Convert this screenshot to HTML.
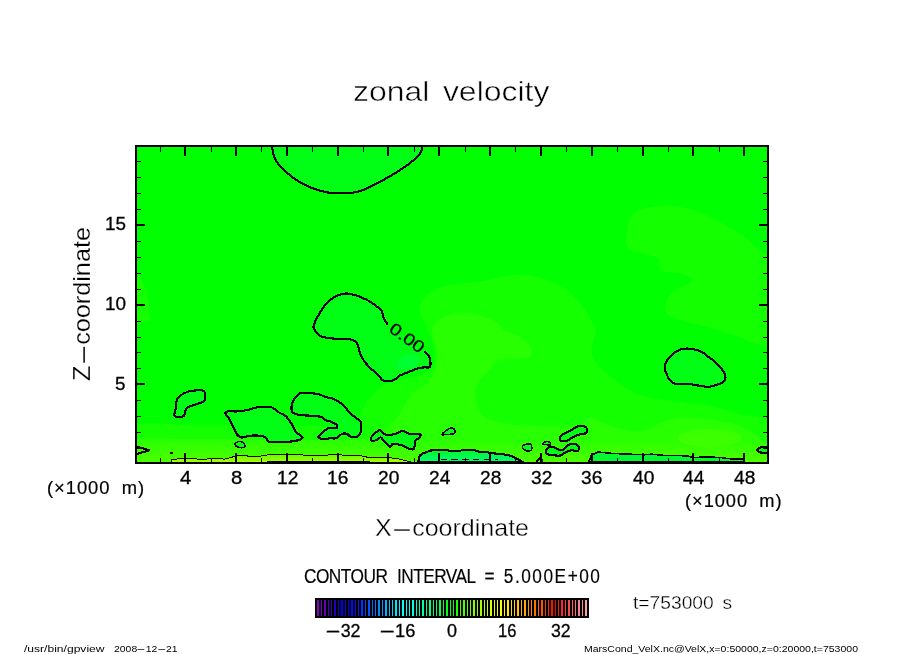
<!DOCTYPE html>
<html lang="en">
<head>
<meta charset="utf-8">
<title>zonal velocity</title>
<style>
html,body{margin:0;padding:0;background:#fff;}
body{width:904px;height:654px;overflow:hidden;}
svg{display:block;position:absolute;left:0;top:0;}
body{position:relative;}

.t{position:absolute;width:0;height:0;transform-origin:0 0;}
.t>span{position:absolute;left:0;top:-0.8465em;line-height:1;white-space:nowrap;font-family:"Liberation Sans",sans-serif;color:#000;}
.d{display:inline-block;transform:scaleX(2.7);margin:0 0.244em;}

.c{fill:none;stroke:#000;stroke-width:2.2;stroke-linejoin:round;stroke-linecap:round;shape-rendering:crispEdges;}
.n{fill:#00ff14;stroke:#000;stroke-width:2.2;stroke-linejoin:round;shape-rendering:crispEdges;}
</style>
</head>
<body>
<svg width="904" height="654" viewBox="0 0 904 654">
<rect x="0" y="0" width="904" height="654" fill="#fff"/>
<defs>
<clipPath id="pc"><rect x="136" y="146" width="632" height="317"/></clipPath>
<linearGradient id="gb" x1="0" y1="0" x2="0" y2="1"><stop offset="0" stop-color="#50ff00" stop-opacity="0"/><stop offset="1" stop-color="#50ff00" stop-opacity="1"/></linearGradient>
<linearGradient id="g5" gradientUnits="userSpaceOnUse" x1="0" y1="454" x2="0" y2="462"><stop offset="0" stop-color="#58ff00"/><stop offset="1" stop-color="#a8ff00"/></linearGradient>
<linearGradient id="gg" x1="0" y1="0" x2="0" y2="1"><stop offset="0" stop-color="#00f71c"/><stop offset="1" stop-color="#00ff78"/></linearGradient>
</defs>
<rect x="136" y="146" width="632" height="317" fill="#00ff00"/>
<g clip-path="url(#pc)">
<path d="M626.1,236.3C626.5,231.0 627.7,221.4 631.0,216.7C634.3,212.0 639.2,209.9 645.7,208.1C652.2,206.3 662.0,205.3 670.1,205.7C678.2,206.1 686.4,207.9 694.6,210.6C702.8,213.2 710.9,217.3 719.1,221.6C727.3,225.9 736.3,231.0 743.6,236.3C750.9,241.6 758.7,249.7 763.1,253.4C767.5,257.1 768.9,243.9 770.0,258.3C771.1,272.7 776.5,327.4 770.0,340.0C763.5,352.6 741.8,336.4 731.3,334.2C720.8,332.0 714.9,329.1 706.8,326.8C698.6,324.6 688.9,322.7 682.4,320.7C675.9,318.7 670.6,317.2 667.7,314.6C664.8,312.0 664.4,308.5 665.2,304.8C666.0,301.1 668.1,296.7 672.6,292.6C677.1,288.5 690.6,283.4 692.2,280.3C693.8,277.2 687.3,275.8 682.4,274.2C677.5,272.6 666.9,273.2 662.8,270.6C658.7,268.0 661.6,261.2 657.9,258.3C654.2,255.4 645.7,255.0 640.8,253.4C635.9,251.8 631.0,251.3 628.5,248.5C626.0,245.7 625.7,241.6 626.1,236.3Z" fill="#14ff00"/>
<path d="M420.0,305.5C422.0,298.4 429.9,291.6 439.9,287.6C449.8,283.6 467.1,283.8 479.7,281.6C492.3,279.5 505.6,275.4 515.6,274.7C525.6,274.0 531.5,275.5 539.5,277.6C547.5,279.8 556.1,282.6 563.4,287.6C570.7,292.6 578.0,300.4 583.3,307.5C588.6,314.6 593.8,322.1 595.2,330.0C596.7,337.9 589.5,347.4 592.0,355.0C594.5,362.6 603.7,370.0 610.0,375.8C616.3,381.6 623.2,386.2 629.8,389.8C636.4,393.4 641.5,395.7 649.8,397.7C658.1,399.7 669.6,400.4 679.6,401.7C689.6,403.0 699.5,403.7 709.5,405.7C719.5,407.7 729.0,410.6 739.4,413.7C749.8,416.8 766.6,414.9 772.0,424.0C777.4,433.1 879.0,460.7 772.0,468.0C665.0,475.3 237.0,474.8 130.0,468.0C23.0,461.2 118.3,434.2 130.0,427.0C141.7,419.8 171.7,425.2 200.0,425.0C228.3,424.8 275.0,426.2 300.0,426.0C325.0,425.8 338.7,428.3 350.0,424.0C361.3,419.7 362.0,406.7 368.0,400.0C374.0,393.3 379.0,387.7 386.0,384.0C393.0,380.3 402.3,380.7 410.0,378.0C417.7,375.3 428.0,372.7 432.0,368.0C436.0,363.3 434.7,356.3 434.0,350.0C433.3,343.7 430.3,337.4 428.0,330.0C425.7,322.6 418.0,312.6 420.0,305.5Z" fill="#14ff00"/>
<path d="M432.0,330.0C432.5,324.9 436.0,322.3 440.0,319.5C444.0,316.7 449.9,313.9 455.8,313.1C461.8,312.3 469.1,313.1 475.7,314.5C482.3,315.9 491.0,318.8 495.7,321.4C500.4,324.0 499.2,327.2 503.6,330.0C508.0,332.8 517.4,334.7 522.0,338.0C526.6,341.3 530.6,346.7 531.5,350.0C532.4,353.3 532.9,356.2 527.6,357.8C522.3,359.4 506.0,357.8 499.7,359.8C493.4,361.8 493.3,365.9 489.7,369.8C486.1,373.7 480.3,378.0 478.0,383.0C475.7,388.0 474.0,393.8 476.0,400.0C478.0,406.2 479.3,415.7 490.0,420.0C500.7,424.3 525.0,425.2 540.0,426.0C555.0,426.8 571.7,426.4 580.0,425.0C588.3,423.6 585.0,417.5 590.0,417.6C595.0,417.7 601.7,423.3 610.0,425.6C618.3,427.9 631.5,431.9 639.8,431.6C648.1,431.3 653.1,425.9 659.7,423.6C666.3,421.3 671.3,418.3 679.6,417.6C687.9,416.9 699.5,418.3 709.5,419.6C719.5,420.9 731.1,422.6 739.4,425.6C747.7,428.6 753.9,433.5 759.3,437.5C764.7,441.5 769.9,444.4 772.0,449.5C774.1,454.6 879.0,464.9 772.0,468.0C665.0,471.1 237.0,472.5 130.0,468.0C23.0,463.5 118.3,445.8 130.0,441.0C141.7,436.2 171.7,439.2 200.0,439.0C228.3,438.8 271.7,440.2 300.0,440.0C328.3,439.8 354.2,441.3 370.0,438.0C385.8,434.7 388.3,427.0 395.0,420.0C401.7,413.0 404.5,402.3 410.0,396.0C415.5,389.7 423.7,386.7 428.0,382.0C432.3,377.3 434.5,373.3 436.0,368.0C437.5,362.7 437.7,356.3 437.0,350.0C436.3,343.7 431.5,335.1 432.0,330.0Z" fill="#28ff00"/>
<ellipse cx="709.5" cy="438" rx="32" ry="9" fill="#3cff00"/>
<path d="M136,270 Q150,290 150,320 L136,325Z" fill="#14ff00"/>
<rect x="136" y="440" width="640" height="24" fill="url(#gb)"/>
<path d="M171.5,462.0L171.5,459.4L180.3,458.8L193.3,458.8L204.8,459.4L210.5,458.4L224.9,459.1L230.7,457.7L236.4,455.5L242.2,455.0L252.2,456.9L255.8,456.9L264.4,455.5L270.1,454.5L300.3,454.5L303.2,455.1L327.7,455.1L330.5,454.5L339.2,454.5L342.0,455.1L355.0,455.5L365.0,456.2L367.9,457.7L387.3,457.8L396.0,458.2L403.1,460.1L410.3,461.8L410.3,463.0L171.7,463.0Z" fill="url(#g5)"/>
<path class="c" d="M171.5,462.0L171.5,459.4L180.3,458.8L193.3,458.8L204.8,459.4L210.5,458.4L224.9,459.1L230.7,457.7L236.4,455.5L242.2,455.0L252.2,456.9L255.8,456.9L264.4,455.5L270.1,454.5L300.3,454.5L303.2,455.1L327.7,455.1L330.5,454.5L339.2,454.5L342.0,455.1L355.0,455.5L365.0,456.2L367.9,457.7L387.3,457.8L396.0,458.2L403.1,460.1L410.3,461.8" style="stroke-width:1"/>
<path class="n" d="M272.0,146.0C272.3,148.7 272.8,152.8 274.0,156.0C275.2,159.2 277.0,162.3 279.0,165.0C281.0,167.7 282.8,169.3 286.0,172.0C289.2,174.7 293.7,178.3 298.0,181.0C302.3,183.7 306.7,186.0 312.0,188.0C317.3,190.0 323.4,192.0 330.0,192.8C336.6,193.6 346.0,193.3 351.6,192.8C357.2,192.3 358.9,191.8 363.5,190.0C368.1,188.2 374.2,184.8 379.5,182.0C384.8,179.2 390.8,175.8 395.4,173.0C400.0,170.2 403.8,167.7 407.4,165.0C411.0,162.3 415.0,159.3 417.3,157.0C419.6,154.7 420.5,152.8 421.3,151.0C422.1,149.2 422.2,147.8 422.3,146.0C422.4,144.2 447.1,141.0 422.0,140.0C396.9,139.0 297.0,139.0 272.0,140.0C247.0,141.0 271.7,143.3 272.0,146.0Z"/>
<path d="M387.4,324.1C380.6,318.6 385.1,320.9 384.1,318.7C383.1,316.5 382.7,313.1 381.6,311.1C380.5,309.1 379.1,308.4 377.3,306.9C375.5,305.4 373.1,303.4 370.6,301.9C368.1,300.4 365.0,298.9 362.2,297.7C359.4,296.5 356.5,295.5 353.8,294.8C351.1,294.1 348.9,293.4 346.2,293.5C343.5,293.6 340.2,294.6 337.8,295.5C335.4,296.4 333.8,297.5 331.9,298.8C329.9,300.1 327.9,301.4 326.1,303.5C324.3,305.6 322.7,308.4 321.0,311.1C319.3,313.8 317.2,316.8 316.0,319.5C314.8,322.2 313.5,325.0 313.5,327.1C313.5,329.2 314.8,330.6 316.0,332.1C317.2,333.6 318.9,335.3 321.0,336.3C323.1,337.3 325.9,337.6 328.6,338.0C331.3,338.4 333.6,338.7 337.0,338.9C340.4,339.1 345.7,338.8 348.8,339.2C351.9,339.6 354.0,340.3 355.5,341.4C357.0,342.5 357.3,343.8 358.0,345.6C358.7,347.4 358.7,349.8 359.7,352.3C360.7,354.8 362.1,358.0 363.9,360.7C365.7,363.4 368.4,366.1 370.6,368.3C372.8,370.6 375.3,372.2 377.3,374.2C379.3,376.1 380.8,378.8 382.4,380.0C383.9,381.2 384.6,381.2 386.6,381.2C388.6,381.2 392.1,380.9 394.2,380.0C396.3,379.1 397.0,377.1 399.2,375.8C401.4,374.6 404.5,373.8 407.6,372.5C410.7,371.2 414.9,369.2 417.7,368.3C420.5,367.4 422.4,367.6 424.4,367.4C426.4,367.2 428.8,368.2 429.8,367.1C430.8,366.0 430.6,362.8 430.3,360.7C430.0,358.6 429.0,356.2 428.1,354.8C427.2,353.4 431.6,357.1 424.8,352.0C418.0,346.9 394.2,329.7 387.4,324.1Z" fill="#00ff14"/>
<ellipse cx="408" cy="362" rx="12" ry="7" fill="#00ff30" transform="rotate(-20 408 362)"/>
<path class="c" d="M387.4,324.1C386.8,323.2 385.1,320.9 384.1,318.7C383.1,316.5 382.7,313.1 381.6,311.1C380.5,309.1 379.1,308.4 377.3,306.9C375.5,305.4 373.1,303.4 370.6,301.9C368.1,300.4 365.0,298.9 362.2,297.7C359.4,296.5 356.5,295.5 353.8,294.8C351.1,294.1 348.9,293.4 346.2,293.5C343.5,293.6 340.2,294.6 337.8,295.5C335.4,296.4 333.8,297.5 331.9,298.8C329.9,300.1 327.9,301.4 326.1,303.5C324.3,305.6 322.7,308.4 321.0,311.1C319.3,313.8 317.2,316.8 316.0,319.5C314.8,322.2 313.5,325.0 313.5,327.1C313.5,329.2 314.8,330.6 316.0,332.1C317.2,333.6 318.9,335.3 321.0,336.3C323.1,337.3 325.9,337.6 328.6,338.0C331.3,338.4 333.6,338.7 337.0,338.9C340.4,339.1 345.7,338.8 348.8,339.2C351.9,339.6 354.0,340.3 355.5,341.4C357.0,342.5 357.3,343.8 358.0,345.6C358.7,347.4 358.7,349.8 359.7,352.3C360.7,354.8 362.1,358.0 363.9,360.7C365.7,363.4 368.4,366.1 370.6,368.3C372.8,370.6 375.3,372.2 377.3,374.2C379.3,376.1 380.8,378.8 382.4,380.0C383.9,381.2 384.6,381.2 386.6,381.2C388.6,381.2 392.1,380.9 394.2,380.0C396.3,379.1 397.0,377.1 399.2,375.8C401.4,374.6 404.5,373.8 407.6,372.5C410.7,371.2 414.9,369.2 417.7,368.3C420.5,367.4 422.4,367.6 424.4,367.4C426.4,367.2 428.8,368.2 429.8,367.1C430.8,366.0 430.6,362.8 430.3,360.7C430.0,358.6 429.0,356.2 428.1,354.8C427.2,353.4 425.4,352.5 424.8,352.0"/>
<path class="n" d="M688.9,348.7C690.9,348.9 695.1,349.4 697.5,350.1C699.9,350.8 701.4,351.8 703.3,353.0C705.2,354.2 707.1,355.9 709.0,357.3C710.9,358.7 712.9,359.9 714.8,361.6C716.7,363.3 718.8,365.6 720.5,367.7C722.2,369.8 724.0,371.8 724.8,373.9C725.6,376.0 725.8,378.7 725.1,380.3C724.4,381.9 722.2,382.6 720.5,383.5C718.8,384.4 716.9,384.8 714.8,385.4C712.6,385.9 710.5,386.8 707.6,386.8C704.7,386.8 700.5,385.8 697.5,385.4C694.5,385.0 693.3,384.4 689.6,384.2C685.9,383.9 678.6,384.7 675.2,383.9C671.9,383.1 670.9,381.3 669.5,379.6C668.1,377.9 667.4,375.8 666.6,373.9C665.8,372.0 664.7,370.7 664.7,368.5C664.7,366.3 665.5,363.1 666.6,360.9C667.8,358.7 669.6,357.0 671.6,355.2C673.6,353.4 676.5,351.2 678.8,350.1C681.1,349.0 683.6,348.9 685.3,348.7C687.0,348.5 686.9,348.5 688.9,348.7Z"/>
<path class="n" d="M199.7,390.1C201.5,390.2 203.2,390.2 204.1,391.2C205.0,392.1 205.1,394.3 205.2,395.8C205.3,397.3 205.5,399.0 204.8,400.1C204.1,401.2 202.9,401.9 201.2,402.7C199.5,403.5 197.0,403.9 194.7,404.7C192.4,405.5 189.1,406.6 187.5,407.6C185.9,408.6 186.0,409.5 185.4,410.9C184.8,412.2 184.8,414.7 183.9,415.7C183.1,416.7 181.7,416.9 180.3,417.1C178.9,417.3 176.3,417.1 175.3,416.7C174.3,416.3 174.2,415.8 174.3,414.5C174.4,413.2 175.4,410.7 175.7,408.8C176.0,406.9 176.0,404.7 176.3,403.0C176.6,401.3 176.7,400.0 177.5,398.7C178.3,397.4 179.3,396.2 181.0,395.1C182.7,394.0 185.4,392.6 187.5,391.9C189.6,391.2 191.3,391.1 193.3,390.8C195.3,390.5 197.9,390.0 199.7,390.1Z"/>
<path class="n" d="M226.3,415.2C225.9,414.0 224.4,412.2 226.6,411.6C228.8,411.0 235.5,411.7 239.3,411.3C243.1,410.9 246.7,410.1 249.4,409.5C252.2,408.9 253.1,408.1 255.8,407.6C258.5,407.1 263.1,406.6 265.8,406.6C268.6,406.6 270.1,406.6 272.3,407.6C274.5,408.6 276.8,411.1 278.8,412.4C280.8,413.7 282.8,414.0 284.5,415.2C286.2,416.4 287.5,417.8 288.8,419.5C290.1,421.2 291.2,423.2 292.4,425.3C293.6,427.4 294.3,429.8 296.0,431.8C297.7,433.8 302.2,436.1 302.5,437.5C302.8,438.9 299.9,439.7 297.5,440.4C295.1,441.1 292.8,441.6 288.1,441.8C283.4,442.0 273.1,442.5 269.4,441.8C265.7,441.1 267.4,438.5 265.8,437.5C264.2,436.5 262.7,436.1 260.0,435.8C257.3,435.5 252.5,435.5 249.4,435.8C246.3,436.1 243.5,437.7 241.4,437.5C239.3,437.3 238.4,436.3 237.1,434.6C235.8,432.9 234.8,430.1 233.5,427.5C232.2,424.9 230.4,420.9 229.2,418.8C228.0,416.8 226.7,416.4 226.3,415.2Z"/>
<path class="n" d="M301.8,392.9C303.5,392.6 305.3,392.6 308.2,392.9C311.1,393.1 316.0,393.7 319.0,394.4C322.0,395.1 323.8,396.6 326.2,397.3C328.6,398.0 330.5,397.4 333.4,398.7C336.3,400.0 340.9,402.9 343.5,405.2C346.1,407.5 347.1,410.2 349.2,412.4C351.3,414.5 354.5,416.6 356.4,418.1C358.3,419.7 360.0,419.4 360.7,421.7C361.4,424.0 361.3,429.3 360.7,431.8C360.1,434.3 358.8,436.0 357.1,436.8C355.4,437.6 352.4,437.3 350.7,436.8C349.0,436.3 348.6,434.4 347.1,433.9C345.7,433.4 343.8,433.2 342.0,433.9C340.2,434.6 338.2,437.5 336.3,438.2C334.4,438.9 332.4,438.1 330.5,438.2C328.6,438.3 326.8,439.1 324.8,439.0C322.8,438.9 318.8,438.5 318.3,437.5C317.8,436.5 320.2,434.8 321.9,433.2C323.6,431.6 326.0,429.0 328.4,428.2C330.8,427.4 335.0,428.8 336.3,428.2C337.6,427.6 337.2,425.7 336.3,424.6C335.4,423.5 332.9,422.4 331.2,421.7C329.5,421.0 327.8,421.0 326.2,420.3C324.6,419.6 323.6,418.1 321.9,417.4C320.2,416.7 319.5,416.4 316.1,416.0C312.8,415.6 305.4,415.6 301.8,415.2C298.2,414.8 296.3,414.5 294.6,413.8C292.9,413.1 292.1,412.8 291.7,410.9C291.3,409.0 291.3,405.1 292.4,402.3C293.5,399.6 296.6,396.0 298.2,394.4C299.8,392.8 300.1,393.1 301.8,392.9Z"/>
<path class="n" d="M370.8,438.1C371.7,436.4 376.3,432.1 378.0,430.9C379.7,429.7 379.5,430.2 380.9,430.9C382.3,431.6 384.1,434.7 386.6,435.2C389.1,435.7 393.4,434.5 396.0,433.8C398.6,433.1 400.1,430.9 402.4,430.9C404.7,430.9 406.7,433.3 409.6,433.8C412.5,434.3 418.0,433.2 419.7,433.8C421.4,434.4 420.4,436.2 419.7,437.4C419.0,438.6 416.4,439.1 415.4,441.0C414.4,442.9 415.0,447.6 413.9,448.9C412.8,450.2 410.9,449.2 408.9,448.6C406.9,448.0 404.3,446.1 401.7,445.3C399.1,444.5 395.0,443.7 393.1,443.9C391.2,444.1 391.6,447.1 390.2,446.7C388.8,446.3 385.9,443.2 384.4,441.7C382.8,440.1 382.1,437.8 380.9,437.4C379.7,437.0 378.6,438.9 377.3,439.5C376.0,440.1 374.0,441.2 372.9,441.0C371.8,440.8 369.9,439.8 370.8,438.1Z"/>
<path class="n" d="M550.5,446.7C551.8,446.5 553.5,447.0 554.8,447.5C556.1,448.0 557.0,449.2 558.4,449.6C559.8,450.0 561.6,450.4 563.4,449.6C565.2,448.8 567.3,445.6 569.2,444.6C571.1,443.7 573.4,443.5 574.9,443.9C576.4,444.2 578.0,445.5 578.5,446.7C579.0,447.9 578.9,450.4 577.8,451.0C576.7,451.6 573.9,450.2 572.0,450.3C570.1,450.4 568.2,451.0 566.3,451.8C564.4,452.6 562.4,454.8 560.5,455.4C558.6,456.0 556.8,455.5 554.8,455.4C552.8,455.3 549.8,455.1 548.3,454.6C546.8,454.1 546.3,453.4 546.1,452.5C545.9,451.6 546.2,449.9 546.9,448.9C547.6,447.9 549.2,446.9 550.5,446.7Z"/>
<path class="n" d="M559.8,438.8C559.9,437.7 561.1,435.8 562.7,434.5C564.3,433.2 567.2,432.4 569.2,431.3C571.2,430.2 573.2,428.9 574.9,428.0C576.6,427.1 577.5,426.1 579.2,425.9C580.9,425.7 583.7,426.0 585.0,426.6C586.3,427.2 586.9,428.4 587.1,429.5C587.3,430.6 587.7,432.3 586.4,433.1C585.1,433.9 581.6,433.7 579.2,434.5C576.8,435.3 573.9,436.7 572.0,437.7C570.1,438.7 569.4,440.1 567.7,440.6C566.0,441.2 563.3,441.3 562.0,441.0C560.7,440.7 559.7,439.9 559.8,438.8Z"/>
<path class="n" d="M235.0,444.3C234.9,443.4 236.8,442.2 238.0,441.8C239.2,441.4 240.9,441.5 242.0,442.0C243.1,442.5 244.4,444.1 244.8,445.0C245.2,445.9 245.6,446.8 244.5,447.2C243.4,447.6 240.1,447.8 238.5,447.3C236.9,446.8 235.1,445.2 235.0,444.3Z" style="stroke-width:1.6"/>
<path class="n" d="M442.0,434.5C442.2,433.7 446.0,430.6 447.7,429.5C449.4,428.4 450.8,427.8 452.0,428.0C453.2,428.2 454.9,429.9 455.2,430.9C455.4,431.9 455.0,433.2 453.5,433.8C452.0,434.4 448.2,434.4 446.3,434.5C444.4,434.6 441.8,435.3 442.0,434.5Z" style="stroke-width:1.6"/>
<path class="n" d="M522.4,447.5C522.2,446.5 523.6,445.1 525.0,444.6C526.4,444.1 529.4,443.9 530.5,444.3C531.6,444.7 531.7,446.0 531.8,447.0C531.9,448.0 532.0,449.8 531.0,450.4C530.0,451.0 527.4,451.1 526.0,450.6C524.6,450.1 522.6,448.5 522.4,447.5Z" style="stroke-width:1.6"/>
<path class="n" d="M542.6,443.9C542.6,443.4 544.8,441.9 546.1,441.7C547.4,441.5 549.9,442.3 550.5,442.9C551.1,443.5 550.4,445.0 549.7,445.3C549.0,445.6 547.3,444.8 546.1,444.6C544.9,444.4 542.6,444.4 542.6,443.9Z" style="stroke-width:1.6"/>
<path class="n" d="M418.2,462.1L419.7,455.4L423.3,453.2L430.5,450.6L436.2,449.6L446.3,449.6L449.2,450.6L460.7,450.6L463.5,449.6L473.6,449.6L476.5,451.0L480.0,451.8L485.8,452.1L494.4,453.5L504.4,454.4L511.6,456.1L517.4,459.0L523.1,462.1Z" style="fill:url(#gg)"/>
<path class="n" d="M588.6,462.1L591.4,455.4L597.9,452.1L600.0,452.2L612.0,453.4L629.9,454.2L643.8,454.8L651.8,454.2L663.7,455.4L687.6,455.8L692.6,457.7L707.5,456.8L721.5,457.7L729.4,458.7L743.4,459.3L744.2,461.7Z" style="fill:#00fa30;stroke-width:1.6"/>
<path class="c" d="M136.0,446.4L149.4,450.2L137.0,454.0"/>
<path class="n" d="M768.0,446.8C766.5,447.0 761.1,447.2 759.3,447.8C757.5,448.4 757.3,449.5 757.3,450.2C757.3,450.9 757.5,451.7 759.3,452.2C761.1,452.7 766.5,453.2 768.0,453.4"/>
<path d="M440.5,459.5H498" fill="none" stroke="#000" stroke-width="1" stroke-dasharray="6.5 4.3" shape-rendering="crispEdges"/>
<path class="c" d="M537,461 L540,458 L542.5,461" />
<rect x="170" y="452" width="3" height="2" fill="#000"/>
<rect x="267" y="461" width="103" height="1" fill="#000" shape-rendering="crispEdges"/>
</g>
<g shape-rendering="crispEdges"><rect x="160" y="147" width="1" height="5" fill="#000"/><rect x="160" y="458" width="1" height="4" fill="#000"/><rect x="184" y="147" width="2" height="9" fill="#000"/><rect x="184" y="453" width="2" height="9" fill="#000"/><rect x="211" y="147" width="1" height="5" fill="#000"/><rect x="211" y="458" width="1" height="4" fill="#000"/><rect x="235" y="147" width="2" height="9" fill="#000"/><rect x="235" y="453" width="2" height="9" fill="#000"/><rect x="261" y="147" width="1" height="5" fill="#000"/><rect x="261" y="458" width="1" height="4" fill="#000"/><rect x="286" y="147" width="2" height="9" fill="#000"/><rect x="286" y="453" width="2" height="9" fill="#000"/><rect x="312" y="147" width="1" height="5" fill="#000"/><rect x="312" y="458" width="1" height="4" fill="#000"/><rect x="337" y="147" width="2" height="9" fill="#000"/><rect x="337" y="453" width="2" height="9" fill="#000"/><rect x="363" y="147" width="1" height="5" fill="#000"/><rect x="363" y="458" width="1" height="4" fill="#000"/><rect x="387" y="147" width="2" height="9" fill="#000"/><rect x="387" y="453" width="2" height="9" fill="#000"/><rect x="414" y="147" width="1" height="5" fill="#000"/><rect x="414" y="458" width="1" height="4" fill="#000"/><rect x="438" y="147" width="2" height="9" fill="#000"/><rect x="438" y="453" width="2" height="9" fill="#000"/><rect x="465" y="147" width="1" height="5" fill="#000"/><rect x="465" y="458" width="1" height="4" fill="#000"/><rect x="489" y="147" width="2" height="9" fill="#000"/><rect x="489" y="453" width="2" height="9" fill="#000"/><rect x="515" y="147" width="1" height="5" fill="#000"/><rect x="515" y="458" width="1" height="4" fill="#000"/><rect x="540" y="147" width="2" height="9" fill="#000"/><rect x="540" y="453" width="2" height="9" fill="#000"/><rect x="566" y="147" width="1" height="5" fill="#000"/><rect x="566" y="458" width="1" height="4" fill="#000"/><rect x="591" y="147" width="2" height="9" fill="#000"/><rect x="591" y="453" width="2" height="9" fill="#000"/><rect x="617" y="147" width="1" height="5" fill="#000"/><rect x="617" y="458" width="1" height="4" fill="#000"/><rect x="642" y="147" width="2" height="9" fill="#000"/><rect x="642" y="453" width="2" height="9" fill="#000"/><rect x="668" y="147" width="1" height="5" fill="#000"/><rect x="668" y="458" width="1" height="4" fill="#000"/><rect x="692" y="147" width="2" height="9" fill="#000"/><rect x="692" y="453" width="2" height="9" fill="#000"/><rect x="719" y="147" width="1" height="5" fill="#000"/><rect x="719" y="458" width="1" height="4" fill="#000"/><rect x="743" y="147" width="2" height="9" fill="#000"/><rect x="743" y="453" width="2" height="9" fill="#000"/><rect x="137" y="448" width="4" height="1" fill="#000"/><rect x="763" y="448" width="4" height="1" fill="#000"/><rect x="137" y="432" width="4" height="1" fill="#000"/><rect x="763" y="432" width="4" height="1" fill="#000"/><rect x="137" y="416" width="4" height="1" fill="#000"/><rect x="763" y="416" width="4" height="1" fill="#000"/><rect x="137" y="400" width="4" height="1" fill="#000"/><rect x="763" y="400" width="4" height="1" fill="#000"/><rect x="137" y="383" width="8" height="2" fill="#000"/><rect x="759" y="383" width="8" height="2" fill="#000"/><rect x="137" y="368" width="4" height="1" fill="#000"/><rect x="763" y="368" width="4" height="1" fill="#000"/><rect x="137" y="352" width="4" height="1" fill="#000"/><rect x="763" y="352" width="4" height="1" fill="#000"/><rect x="137" y="337" width="4" height="1" fill="#000"/><rect x="763" y="337" width="4" height="1" fill="#000"/><rect x="137" y="321" width="4" height="1" fill="#000"/><rect x="763" y="321" width="4" height="1" fill="#000"/><rect x="137" y="304" width="8" height="2" fill="#000"/><rect x="759" y="304" width="8" height="2" fill="#000"/><rect x="137" y="289" width="4" height="1" fill="#000"/><rect x="763" y="289" width="4" height="1" fill="#000"/><rect x="137" y="273" width="4" height="1" fill="#000"/><rect x="763" y="273" width="4" height="1" fill="#000"/><rect x="137" y="257" width="4" height="1" fill="#000"/><rect x="763" y="257" width="4" height="1" fill="#000"/><rect x="137" y="241" width="4" height="1" fill="#000"/><rect x="763" y="241" width="4" height="1" fill="#000"/><rect x="137" y="224" width="8" height="2" fill="#000"/><rect x="759" y="224" width="8" height="2" fill="#000"/><rect x="137" y="209" width="4" height="1" fill="#000"/><rect x="763" y="209" width="4" height="1" fill="#000"/><rect x="137" y="193" width="4" height="1" fill="#000"/><rect x="763" y="193" width="4" height="1" fill="#000"/><rect x="137" y="177" width="4" height="1" fill="#000"/><rect x="763" y="177" width="4" height="1" fill="#000"/><rect x="137" y="161" width="4" height="1" fill="#000"/><rect x="763" y="161" width="4" height="1" fill="#000"/></g>
<rect x="136" y="146" width="632" height="317" fill="none" stroke="#000" stroke-width="2" shape-rendering="crispEdges"/>
<g shape-rendering="crispEdges"><rect x="315" y="598" width="274" height="20" fill="#000"/><rect x="317" y="600" width="2" height="16" fill="#8800c2"/><rect x="321" y="600" width="1" height="16" fill="#7600c0"/><rect x="324" y="600" width="2" height="16" fill="#6400be"/><rect x="328" y="600" width="1" height="16" fill="#4b00bc"/><rect x="331" y="600" width="1" height="16" fill="#3200b9"/><rect x="334" y="600" width="2" height="16" fill="#1e00c3"/><rect x="338" y="600" width="1" height="16" fill="#0d00d5"/><rect x="341" y="600" width="2" height="16" fill="#0000f0"/><rect x="345" y="600" width="1" height="16" fill="#0000f6"/><rect x="348" y="600" width="1" height="16" fill="#0000fc"/><rect x="351" y="600" width="2" height="16" fill="#0006ff"/><rect x="355" y="600" width="1" height="16" fill="#0012ff"/><rect x="358" y="600" width="1" height="16" fill="#001eff"/><rect x="361" y="600" width="2" height="16" fill="#0032ff"/><rect x="365" y="600" width="1" height="16" fill="#0046ff"/><rect x="368" y="600" width="2" height="16" fill="#0057ff"/><rect x="372" y="600" width="1" height="16" fill="#0067ff"/><rect x="375" y="600" width="1" height="16" fill="#0078ff"/><rect x="378" y="600" width="2" height="16" fill="#008aff"/><rect x="382" y="600" width="1" height="16" fill="#009dff"/><rect x="385" y="600" width="2" height="16" fill="#00afff"/><rect x="389" y="600" width="1" height="16" fill="#00c1ff"/><rect x="392" y="600" width="1" height="16" fill="#00d2ff"/><rect x="395" y="600" width="2" height="16" fill="#00e3ff"/><rect x="399" y="600" width="1" height="16" fill="#00f3ff"/><rect x="402" y="600" width="2" height="16" fill="#00fffd"/><rect x="406" y="600" width="1" height="16" fill="#00fff5"/><rect x="409" y="600" width="1" height="16" fill="#00ffee"/><rect x="412" y="600" width="2" height="16" fill="#00ffe7"/><rect x="416" y="600" width="1" height="16" fill="#00ffd0"/><rect x="419" y="600" width="1" height="16" fill="#00ffb6"/><rect x="422" y="600" width="2" height="16" fill="#00ffa1"/><rect x="426" y="600" width="1" height="16" fill="#00ff8f"/><rect x="429" y="600" width="2" height="16" fill="#00ff7d"/><rect x="433" y="600" width="1" height="16" fill="#00ff6b"/><rect x="436" y="600" width="1" height="16" fill="#00ff58"/><rect x="439" y="600" width="2" height="16" fill="#00ff43"/><rect x="443" y="600" width="1" height="16" fill="#00ff2e"/><rect x="446" y="600" width="2" height="16" fill="#00ff1a"/><rect x="450" y="600" width="1" height="16" fill="#00ff09"/><rect x="453" y="600" width="1" height="16" fill="#0aff00"/><rect x="456" y="600" width="2" height="16" fill="#1fff00"/><rect x="460" y="600" width="1" height="16" fill="#34ff00"/><rect x="463" y="600" width="2" height="16" fill="#47ff00"/><rect x="467" y="600" width="1" height="16" fill="#5aff00"/><rect x="470" y="600" width="1" height="16" fill="#6dff00"/><rect x="473" y="600" width="2" height="16" fill="#7fff00"/><rect x="477" y="600" width="1" height="16" fill="#92ff00"/><rect x="480" y="600" width="2" height="16" fill="#a4ff00"/><rect x="484" y="600" width="1" height="16" fill="#b6ff00"/><rect x="487" y="600" width="1" height="16" fill="#c8ff00"/><rect x="490" y="600" width="2" height="16" fill="#daff00"/><rect x="494" y="600" width="1" height="16" fill="#e7ff00"/><rect x="497" y="600" width="1" height="16" fill="#f3ff00"/><rect x="500" y="600" width="2" height="16" fill="#ffff00"/><rect x="504" y="600" width="1" height="16" fill="#fff300"/><rect x="507" y="600" width="2" height="16" fill="#ffe700"/><rect x="511" y="600" width="1" height="16" fill="#ffdb00"/><rect x="514" y="600" width="1" height="16" fill="#ffce00"/><rect x="517" y="600" width="2" height="16" fill="#ffc100"/><rect x="521" y="600" width="1" height="16" fill="#ffb400"/><rect x="524" y="600" width="2" height="16" fill="#ffa600"/><rect x="528" y="600" width="1" height="16" fill="#ff9400"/><rect x="531" y="600" width="1" height="16" fill="#ff8300"/><rect x="534" y="600" width="2" height="16" fill="#ff7100"/><rect x="538" y="600" width="1" height="16" fill="#ff6000"/><rect x="541" y="600" width="2" height="16" fill="#ff5200"/><rect x="545" y="600" width="1" height="16" fill="#ff3f00"/><rect x="548" y="600" width="1" height="16" fill="#ff2800"/><rect x="551" y="600" width="2" height="16" fill="#ff1400"/><rect x="555" y="600" width="1" height="16" fill="#ff0000"/><rect x="558" y="600" width="1" height="16" fill="#ff1414"/><rect x="561" y="600" width="2" height="16" fill="#ff2626"/><rect x="565" y="600" width="1" height="16" fill="#ff3737"/><rect x="568" y="600" width="2" height="16" fill="#ff4848"/><rect x="572" y="600" width="1" height="16" fill="#ff5a5a"/><rect x="575" y="600" width="1" height="16" fill="#ff6c6c"/><rect x="578" y="600" width="2" height="16" fill="#ff7d7d"/><rect x="582" y="600" width="1" height="16" fill="#ff8f8f"/><rect x="585" y="600" width="2" height="16" fill="#ffa1a1"/></g>
</svg>
<div class="t" style="left:352.5px;top:102.0px;font-size:28px;transform:scaleX(1.1418);"><span style="word-spacing:4px;-webkit-text-stroke:0.5px #fff;">zonal velocity</span></div>
<div class="t" style="left:375.3px;top:536.6px;font-size:24px;transform:scaleX(1.0421);"><span style="-webkit-text-stroke:0.35px #fff;">X<span class="d">-</span>coordinate</span></div>
<div class="t" style="left:89.9px;top:381.2px;font-size:24px;transform:rotate(-90deg) scaleX(1.0516);"><span style="-webkit-text-stroke:0.2px #fff;">Z<span class="d">-</span>coordinate</span></div>
<div class="t" style="left:179.85px;top:484.6px;font-size:18px;transform:scaleX(1.1282);"><span style="-webkit-text-stroke:0.3px #000;">4</span></div>
<div class="t" style="left:230.54999999999998px;top:484.6px;font-size:18px;transform:scaleX(1.1282);"><span style="-webkit-text-stroke:0.3px #000;">8</span></div>
<div class="t" style="left:276.65000000000003px;top:484.6px;font-size:18px;transform:scaleX(1.0633);"><span style="-webkit-text-stroke:0.3px #000;">12</span></div>
<div class="t" style="left:327.15000000000003px;top:484.6px;font-size:18px;transform:scaleX(1.0633);"><span style="-webkit-text-stroke:0.3px #000;">16</span></div>
<div class="t" style="left:377.85px;top:484.6px;font-size:18px;transform:scaleX(1.0633);"><span style="-webkit-text-stroke:0.3px #000;">20</span></div>
<div class="t" style="left:428.55px;top:484.6px;font-size:18px;transform:scaleX(1.0633);"><span style="-webkit-text-stroke:0.3px #000;">24</span></div>
<div class="t" style="left:479.55px;top:484.6px;font-size:18px;transform:scaleX(1.0633);"><span style="-webkit-text-stroke:0.3px #000;">28</span></div>
<div class="t" style="left:531.15px;top:484.6px;font-size:18px;transform:scaleX(1.0633);"><span style="-webkit-text-stroke:0.3px #000;">32</span></div>
<div class="t" style="left:581.15px;top:484.6px;font-size:18px;transform:scaleX(1.0633);"><span style="-webkit-text-stroke:0.3px #000;">36</span></div>
<div class="t" style="left:632.65px;top:484.6px;font-size:18px;transform:scaleX(1.0633);"><span style="-webkit-text-stroke:0.3px #000;">40</span></div>
<div class="t" style="left:682.75px;top:484.6px;font-size:18px;transform:scaleX(1.0633);"><span style="-webkit-text-stroke:0.3px #000;">44</span></div>
<div class="t" style="left:733.95px;top:484.6px;font-size:18px;transform:scaleX(1.0633);"><span style="-webkit-text-stroke:0.3px #000;">48</span></div>
<div class="t" style="left:104.8px;top:230.4px;font-size:18px;transform:scaleX(1.0484);"><span style="-webkit-text-stroke:0.3px #000;">15</span></div>
<div class="t" style="left:104.8px;top:310.5px;font-size:18px;transform:scaleX(1.0484);"><span style="-webkit-text-stroke:0.3px #000;">10</span></div>
<div class="t" style="left:115.3px;top:390.0px;font-size:18px;transform:scaleX(1.0484);"><span style="-webkit-text-stroke:0.3px #000;">5</span></div>
<div class="t" style="left:46.6px;top:495.3px;font-size:17.5px;transform:scaleX(1.0497);"><span style="letter-spacing:0.9px;word-spacing:5px;-webkit-text-stroke:0.2px #000;">(×1000 m)</span></div>
<div class="t" style="left:684.7px;top:507.6px;font-size:17.5px;transform:scaleX(1.0444);"><span style="letter-spacing:0.9px;word-spacing:5px;-webkit-text-stroke:0.2px #000;">(×1000 m)</span></div>
<div class="t" style="left:304.2px;top:583.0px;font-size:19.5px;transform:scaleX(0.8867);"><span style="letter-spacing:-0.6px;word-spacing:6.0px;-webkit-text-stroke:0.15px #000;">CONTOUR INTERVAL = <span style="letter-spacing:1.7px">5.000E+00</span></span></div>
<div class="t" style="left:325.5px;top:637.1px;font-size:18px;transform:scaleX(0.9910);"><span style="-webkit-text-stroke:0.3px #000;"><span class="d">-</span>32</span></div>
<div class="t" style="left:379.7px;top:637.1px;font-size:18px;transform:scaleX(1.0140);"><span style="-webkit-text-stroke:0.3px #000;"><span class="d">-</span>16</span></div>
<div class="t" style="left:447.0px;top:637.1px;font-size:18px;transform:scaleX(0.9984);"><span style="-webkit-text-stroke:0.3px #000;">0</span></div>
<div class="t" style="left:497.8px;top:637.1px;font-size:18px;transform:scaleX(0.9186);"><span style="-webkit-text-stroke:0.3px #000;">16</span></div>
<div class="t" style="left:551.3px;top:637.1px;font-size:18px;transform:scaleX(0.9835);"><span style="-webkit-text-stroke:0.3px #000;">32</span></div>
<div class="t" style="left:633.0px;top:609.9px;font-size:17.5px;transform:scaleX(1.0989);"><span style="word-spacing:3px;-webkit-text-stroke:0.3px #fff;">t=753000 s</span></div>
<div class="t" style="left:24.3px;top:652.3px;font-size:9.5px;transform:scaleX(1.2702);"><span>/usr/bin/gpview</span></div>
<div class="t" style="left:114.2px;top:652.3px;font-size:9.5px;transform:scaleX(1.0969);"><span>2008<span class="d">-</span>12<span class="d">-</span>21</span></div>
<div class="t" style="left:583.5px;top:652.5px;font-size:9.5px;transform:scaleX(1.1067);"><span>MarsCond_VelX.nc@VelX,x=0:50000,z=0:20000,t=753000</span></div>
<div class="t" style="left:387.6px;top:330.6px;font-size:16.5px;transform:rotate(36deg) scaleX(1.2140);"><span style="-webkit-text-stroke:0.3px #000;">0.00</span></div>
</body>
</html>
